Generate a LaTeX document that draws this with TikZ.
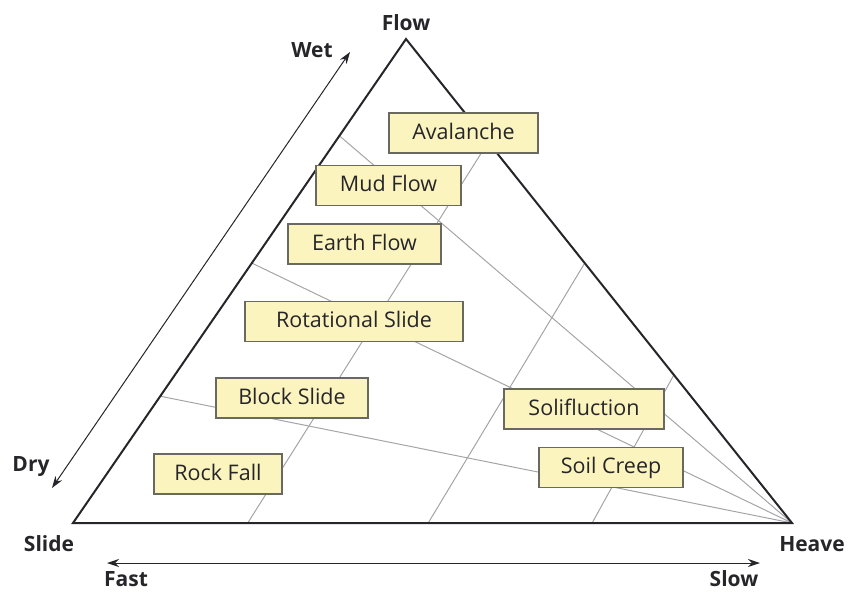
\documentclass[tikz,border=0pt]{standalone}
\usepackage{fontspec}
\setmainfont{Open Sans}
\usetikzlibrary{
    arrows.meta,
    calc
}

\definecolor{boxfill}{RGB}{252,244,190}
\definecolor{boxline}{RGB}{105,105,95}
\definecolor{ink}{RGB}{38,38,42}
\definecolor{divgray}{RGB}{165,165,168}

\begin{document}
\begin{tikzpicture}[
    x=1pt, y=-1pt,
    every node/.style={font=\fontsize{21.5}{25}\selectfont, text=ink},
    movement/.style={
        rectangle,
        draw=boxline,
        fill=boxfill,
        line width=1.4pt,
        minimum height=40pt,
        inner sep=0pt,
        text height=15.5pt,
        text depth=3.5pt
    },
    vertexlabel/.style={font=\fontsize{21}{25}\selectfont\bfseries, anchor=base},
    rim/.style={draw=ink, line width=2pt},
    divider/.style={draw=divgray, line width=1pt},
    twoway/.style={{Stealth[length=12pt,width=8pt]}-{Stealth[length=12pt,width=8pt]}, line width=1pt, draw=ink}
]
\useasboundingbox (0,0) rectangle (850,592);

% ---------- Triangle corners ----------
\coordinate (slide) at (73,523);
\coordinate (flow)  at (406,39);
\coordinate (heave) at (792,523);

% ---------- Points on the edges ----------
\coordinate (l1) at ($(slide)!0.800!(flow)$);
\coordinate (l2) at ($(slide)!0.537!(flow)$);
\coordinate (l3) at ($(slide)!0.262!(flow)$);
\coordinate (b1) at ($(slide)!0.243!(heave)$);
\coordinate (b2) at ($(slide)!0.494!(heave)$);
\coordinate (b3) at ($(slide)!0.722!(heave)$);
\coordinate (r1) at ($(heave)!0.787!(flow)$);
\coordinate (r2) at ($(heave)!0.537!(flow)$);
\coordinate (r3) at ($(heave)!0.306!(flow)$);

% ---------- Dividing lines ----------
\draw[divider] (heave) -- (l1);
\draw[divider] (heave) -- (l2);
\draw[divider] (heave) -- (l3);
\draw[divider] (b1) -- (r1);
\draw[divider] (b2) -- (r2);
\draw[divider] (b3) -- (r3);

% ---------- Triangle ----------
\draw[rim] (slide) -- (flow) -- (heave) -- cycle;

% ---------- Movement types ----------
\node[movement, minimum width=149pt] (avalanche) at (463.5,133)   {Avalanche};
\node[movement, minimum width=145pt] (mudflow)   at (388.5,185.5) {Mud Flow};
\node[movement, minimum width=153pt] (earthflow) at (364.5,244)   {Earth Flow};
\node[movement, minimum width=218pt] (rotslide)  at (354,321.5)   {Rotational Slide};
\node[movement, minimum width=152pt] (blockslide) at (292,398)    {Block Slide};
\node[movement, minimum width=128pt] (rockfall)  at (218,474)     {Rock Fall};
\node[movement, minimum width=160pt] (solif)     at (584,409)     {Solifluction};
\node[movement, minimum width=144pt] (soilcreep) at (611,467.5)   {Soil Creep};

% ---------- Corner and axis labels ----------
\node[vertexlabel] (flowlabel)  at (406,30)  {Flow};
\node[vertexlabel] (slidelabel) at (49,551)  {Slide};
\node[vertexlabel] (heavelabel) at (812,551) {Heave};
\node[vertexlabel] (wet)  at (312,57)  {Wet};
\node[vertexlabel] (dry)  at (31,471)  {Dry};
\node[vertexlabel] (fast) at (126,586) {Fast};
\node[vertexlabel] (slow) at (734,586) {Slow};

% ---------- Scale arrows ----------
\coordinate (drytip)  at (52,488);
\coordinate (wettip)  at (350,52);
\coordinate (fasttip) at (107,563);
\coordinate (slowtip) at (760,563);
\draw[twoway] (drytip) -- (wettip);
\draw[twoway] (fasttip) -- (slowtip);

\end{tikzpicture}
\end{document}
